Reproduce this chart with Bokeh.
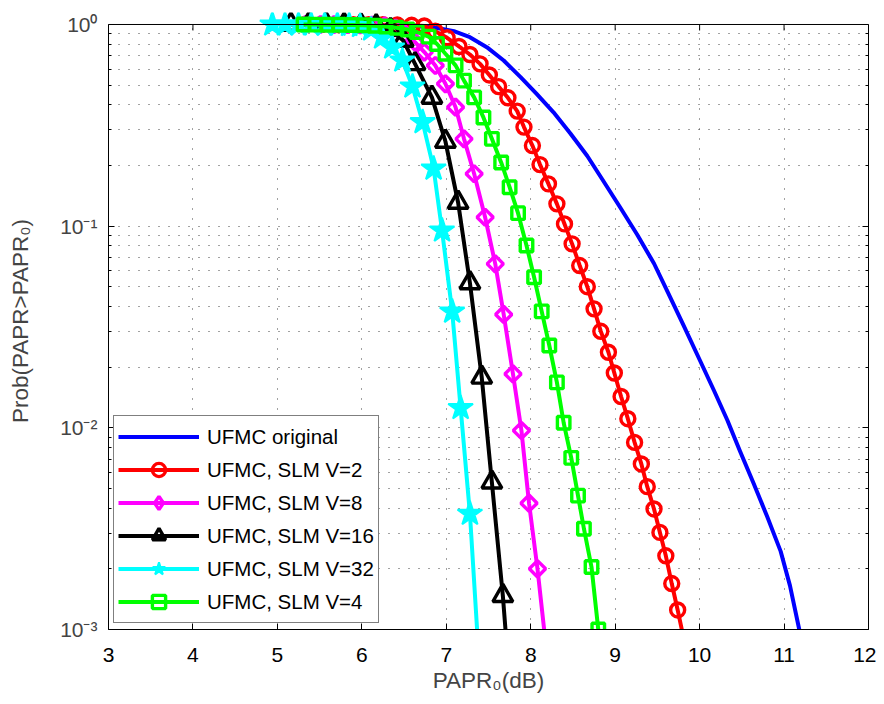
import numpy as np
from bokeh.plotting import figure
from bokeh.models import Range1d, FixedTicker, LogAxis, Legend, LegendItem, Span
from bokeh.embed import file_html
from bokeh.resources import INLINE

# ---------------- axes / labels ----------------
x_ticks = [3, 4, 5, 6, 7, 8, 9, 10, 11, 12]
y_ticks = [1e-3, 1e-2, 1e-1, 1.0]
y_tick_labels = ["10⁻³", "10⁻²", "10⁻¹", "10⁰"]
y_minor = [m * 10.0 ** e for e in (-3, -2, -1) for m in range(2, 10)]
x_label = "PAPR₀(dB)"
y_label = "Prob(PAPR>PAPR₀)"

# ---------------- data ----------------
orig_x = [5.27, 6.22, 6.57, 6.85, 7.09, 7.28, 7.48, 7.68, 7.88, 8.07, 8.27, 8.47,
          8.67, 8.86, 9.06, 9.26, 9.46, 9.61, 9.81, 10.01, 10.17, 10.33, 10.48,
          10.64, 10.80, 10.96, 11.07, 11.18]
orig_p = [1.0, 0.994, 0.983, 0.970, 0.926, 0.865, 0.772, 0.663, 0.548, 0.453, 0.367,
          0.288, 0.2228, 0.1675, 0.1238, 0.0909, 0.0653, 0.0483, 0.0322, 0.02133,
          0.01531, 0.01087, 0.00763, 0.0053, 0.00363, 0.00244, 0.00165, 0.00100]

v2_x = [5.33, 5.52, 5.71, 5.90, 6.08, 6.25, 6.42, 6.59, 6.74, 6.87, 7.01, 7.15, 7.28,
        7.40, 7.51, 7.62, 7.73, 7.84, 7.92, 8.02, 8.11, 8.21, 8.31, 8.40, 8.49, 8.58,
        8.67, 8.75, 8.83, 8.92, 8.99, 9.07, 9.15, 9.23, 9.31, 9.38, 9.46, 9.53, 9.60,
        9.67, 9.74, 9.83]
v2_p = [1.0, 1.0, 1.0, 0.999, 0.999, 0.998, 0.994, 0.991, 0.983, 0.927, 0.859, 0.778,
        0.710, 0.638, 0.562, 0.492, 0.433, 0.372, 0.310, 0.251, 0.202, 0.162, 0.129,
        0.1026, 0.0817, 0.0638, 0.0501, 0.0389, 0.0301, 0.0237, 0.0187, 0.0143, 0.0111,
        0.00847, 0.00662, 0.00511, 0.00396, 0.00303, 0.00232, 0.00169, 0.00125, 0.00083]

v8_x = [5.33, 5.51, 5.67, 5.83, 5.98, 6.12, 6.27, 6.40, 6.51, 6.63, 6.74, 6.87, 6.99,
        7.11, 7.21, 7.33, 7.46, 7.58, 7.68, 7.79, 7.89, 7.98, 8.08, 8.18]
v8_p = [1.0, 1.0, 0.999, 0.998, 0.996, 0.992, 0.985, 0.961, 0.902, 0.817, 0.730, 0.626,
        0.508, 0.389, 0.271, 0.182, 0.1107, 0.0650, 0.0365, 0.0185, 0.0097, 0.00423,
        0.00200, 0.00083]

v16_x = [5.16, 5.37, 5.58, 5.79, 5.99, 6.17, 6.34, 6.49, 6.63, 6.83, 6.99, 7.14, 7.28,
         7.42, 7.54, 7.67, 7.73]
v16_p = [1.0, 1.0, 1.0, 0.999, 0.994, 0.983, 0.944, 0.833, 0.638, 0.435, 0.263, 0.131,
         0.0523, 0.0178, 0.00537, 0.00147, 0.0007]

v32_x = [4.94, 5.09, 5.25, 5.40, 5.56, 5.71, 5.85, 5.98, 6.11, 6.24, 6.36, 6.48, 6.60,
         6.72, 6.85, 6.95, 7.07, 7.17, 7.28, 7.38]
v32_p = [1.0, 1.0, 1.0, 1.0, 0.999, 0.998, 0.994, 0.983, 0.944, 0.862, 0.769, 0.663,
         0.493, 0.328, 0.193, 0.0952, 0.0377, 0.01254, 0.00375, 0.00079]

v4_x = [5.31, 5.45, 5.59, 5.73, 5.88, 6.02, 6.15, 6.28, 6.41, 6.54, 6.65, 6.79, 6.89,
        6.99, 7.11, 7.21, 7.33, 7.44, 7.54, 7.65, 7.75, 7.85, 7.95, 8.04, 8.13, 8.22,
        8.31, 8.39, 8.48, 8.56, 8.63, 8.72, 8.80]
v4_p = [1.0, 0.999, 0.998, 0.997, 0.994, 0.991, 0.985, 0.977, 0.964, 0.944, 0.918,
        0.871, 0.800, 0.716, 0.627, 0.527, 0.435, 0.346, 0.271, 0.207, 0.156, 0.116,
        0.0802, 0.0558, 0.0378, 0.0256, 0.0168, 0.0106, 0.0071, 0.00461, 0.00316,
        0.00204, 0.001]

series_names = ["UFMC original", "UFMC, SLM V=2", "UFMC, SLM V=8",
                "UFMC, SLM V=16", "UFMC, SLM V=32", "UFMC, SLM V=4"]

# ---------------- figure ----------------
FONT = "Liberation Sans"
DECADE_PX = 201.67
TOP_PAD_PX = 12

p = figure(width=876, height=696,
           x_range=Range1d(3, 12),
           y_range=Range1d(1e-3, 10 ** (TOP_PAD_PX / DECADE_PX)),
           y_axis_type="log", output_backend="svg", toolbar_location=None,
           min_border_left=108, min_border_right=8, min_border_top=12,
           min_border_bottom=67)
p.outline_line_color = None
p.background_fill_color = "white"
p.border_fill_color = "white"

GRID_COLOR = "#444444"
GRID_DASH = "1 9"

# x axis
xax = p.xaxis[0]
xax.ticker = FixedTicker(ticks=x_ticks)
xax.major_tick_in = 6
xax.major_tick_out = 0
xax.minor_tick_line_color = None
xax.axis_line_color = "black"
xax.major_label_text_font = FONT
xax.major_label_text_font_size = "21px"
xax.major_label_text_color = "black"
xax.major_label_standoff = 18
xax.axis_label = x_label
xax.axis_label_text_font = FONT
xax.axis_label_text_font_size = "22.5px"
xax.axis_label_text_font_style = "normal"
xax.axis_label_standoff = 3

# y axis
yt = FixedTicker(ticks=y_ticks, minor_ticks=y_minor)
yax = p.yaxis[0]
yax.ticker = yt
yax.bounds = (1e-3, 1.0)
yax.major_label_overrides = dict(zip(y_ticks, y_tick_labels))
yax.major_tick_in = 6
yax.major_tick_out = 0
yax.minor_tick_in = 3
yax.minor_tick_out = 0
yax.axis_line_color = "black"
yax.major_label_text_font = FONT
yax.major_label_text_font_size = "21px"
yax.major_label_standoff = 11
yax.axis_label = y_label
yax.axis_label_text_font = FONT
yax.axis_label_text_font_size = "22.5px"
yax.axis_label_text_font_style = "normal"
yax.axis_label_standoff = 24

rax = LogAxis(ticker=yt, bounds=(1e-3, 1.0), major_label_text_font_size="1px",
              major_label_text_alpha=0.0, major_label_standoff=0,
              major_tick_in=6, major_tick_out=0,
              minor_tick_in=3, minor_tick_out=0, axis_line_color="black")
p.add_layout(rax, "right")

# grids
p.xgrid.ticker = FixedTicker(ticks=x_ticks)
p.xgrid.grid_line_color = GRID_COLOR
p.xgrid.grid_line_dash = GRID_DASH
p.xgrid.cross_bounds = (1e-3, 1.0)
p.ygrid.grid_line_color = GRID_COLOR
p.ygrid.grid_line_dash = GRID_DASH
p.ygrid.minor_grid_line_color = GRID_COLOR
p.ygrid.minor_grid_line_dash = GRID_DASH

# top border + top ticks
p.add_layout(Span(location=1.0, dimension="width", line_color="black", line_width=1))
tick_end = 10 ** (-6 / DECADE_PX)
p.segment(x0=x_ticks, y0=[1.0] * len(x_ticks), x1=x_ticks, y1=[tick_end] * len(x_ticks),
          line_color="black", line_width=1)

LW = 4
MLW = 3.4

r0 = p.line(orig_x, orig_p, line_color="#0000ff", line_width=LW, line_join="round")

l2 = p.line(v2_x, v2_p, line_color="#ff0000", line_width=LW)
m2 = p.scatter(v2_x, v2_p, marker="circle", size=14, line_color="#ff0000",
               line_width=MLW, fill_color=None)

l8 = p.line(v8_x, v8_p, line_color="#ff00ff", line_width=LW)
m8 = p.scatter(v8_x, v8_p, marker="square", angle=np.pi / 4, size=11.5,
               line_color="#ff00ff", line_width=MLW, fill_color=None)
# legend swatch for the diamond (drawn at the last point, which lies below the frame)
m8_leg = p.scatter(v8_x[-1:], v8_p[-1:], marker="diamond", size=8,
                   line_color="#ff00ff", line_width=MLW, fill_color=None)

l16 = p.line(v16_x, v16_p, line_color="#000000", line_width=LW)
m16 = p.scatter(v16_x, v16_p, marker="triangle", size=20, line_color="#000000",
                line_width=MLW, fill_color=None)

l32 = p.line(v32_x, v32_p, line_color="#00ffff", line_width=LW)
m32 = p.scatter(v32_x, v32_p, marker="star", size=26, line_color="#00ffff",
                line_width=2, fill_color="#00ffff")

l4 = p.line(v4_x, v4_p, line_color="#00ff00", line_width=LW)
m4 = p.scatter(v4_x, v4_p, marker="square", size=12.5, line_color="#00ff00",
               line_width=MLW, fill_color=None)

items = [
    LegendItem(label=series_names[0], renderers=[r0]),
    LegendItem(label=series_names[1], renderers=[l2, m2]),
    LegendItem(label=series_names[2], renderers=[l8, m8_leg]),
    LegendItem(label=series_names[3], renderers=[l16, m16]),
    LegendItem(label=series_names[4], renderers=[l32, m32]),
    LegendItem(label=series_names[5], renderers=[l4, m4]),
]
legend = Legend(items=items, location=(5, 6), padding=4, spacing=0,
                glyph_height=33, glyph_width=81, label_height=33, label_width=162,
                label_standoff=8, label_text_font=FONT, label_text_font_size="20.5px",
                label_text_color="black", border_line_color="black",
                border_line_width=1.2, background_fill_color="white",
                background_fill_alpha=1.0)
p.add_layout(legend)

open("out.html", "w").write(file_html(p, INLINE))
